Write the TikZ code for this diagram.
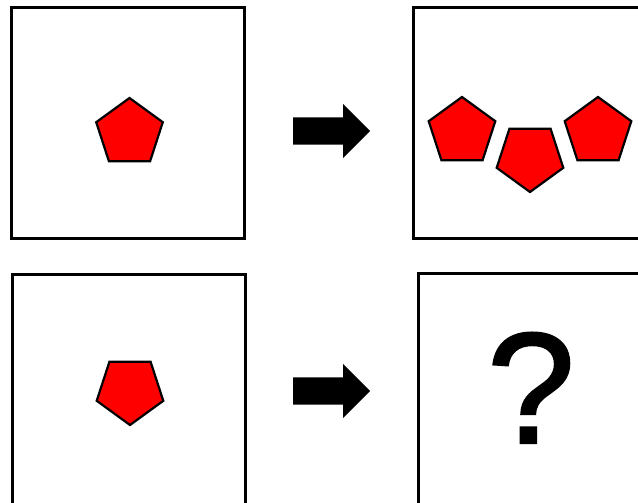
\documentclass[tikz,border=0pt]{standalone}
\usepackage{fontspec}
\newfontfamily\qfont[FakeBold=1.5]{Liberation Sans}
\usetikzlibrary{shapes.geometric, shapes.arrows, positioning}

\begin{document}
\begin{tikzpicture}[x=1pt, y=-1pt,
    frame/.style={rectangle, draw, line width=3pt, minimum width=233pt, minimum height=231pt, inner sep=0pt},
    pent/.style={regular polygon, regular polygon sides=5, draw, line width=2.2pt, fill=red, minimum size=70pt, inner sep=0pt},
    flip/.style={pent, shape border rotate=180},
    bigarrow/.style={single arrow, fill=black, inner xsep=0pt, inner ysep=13.5pt, single arrow head extend=13.5pt, minimum height=77pt, anchor=tail}]

    \clip (0,0) rectangle (638,503);
    \fill [white] (0,0) rectangle (638,503);

    % the four panels
    \node [frame] (srcA) at (128,123) {};
    \node [frame] (resA) at (529.5,123) {};
    \node [frame] (srcB) at (128.5,389.5) {};
    \node [frame] (resB) at (534.5,388.5) {};

    % pentagons
    \node [pent] (pA) at (129.5,133) {};
    \node [pent] (pL) at (462,132) {};
    \node [flip] (pM) at (530,157) {};
    \node [pent] (pR) at (598,132) {};
    \node [flip] (pB) at (130,390) {};

    % block arrows
    \node [bigarrow] (arrA) at (293,131) {};
    \node [bigarrow] (arrB) at (293,391) {};

    \node [anchor=base, font=\qfont\fontsize{158}{158}\selectfont, inner sep=0pt] (quest) at (531,443) {?};

\end{tikzpicture}
\end{document}
